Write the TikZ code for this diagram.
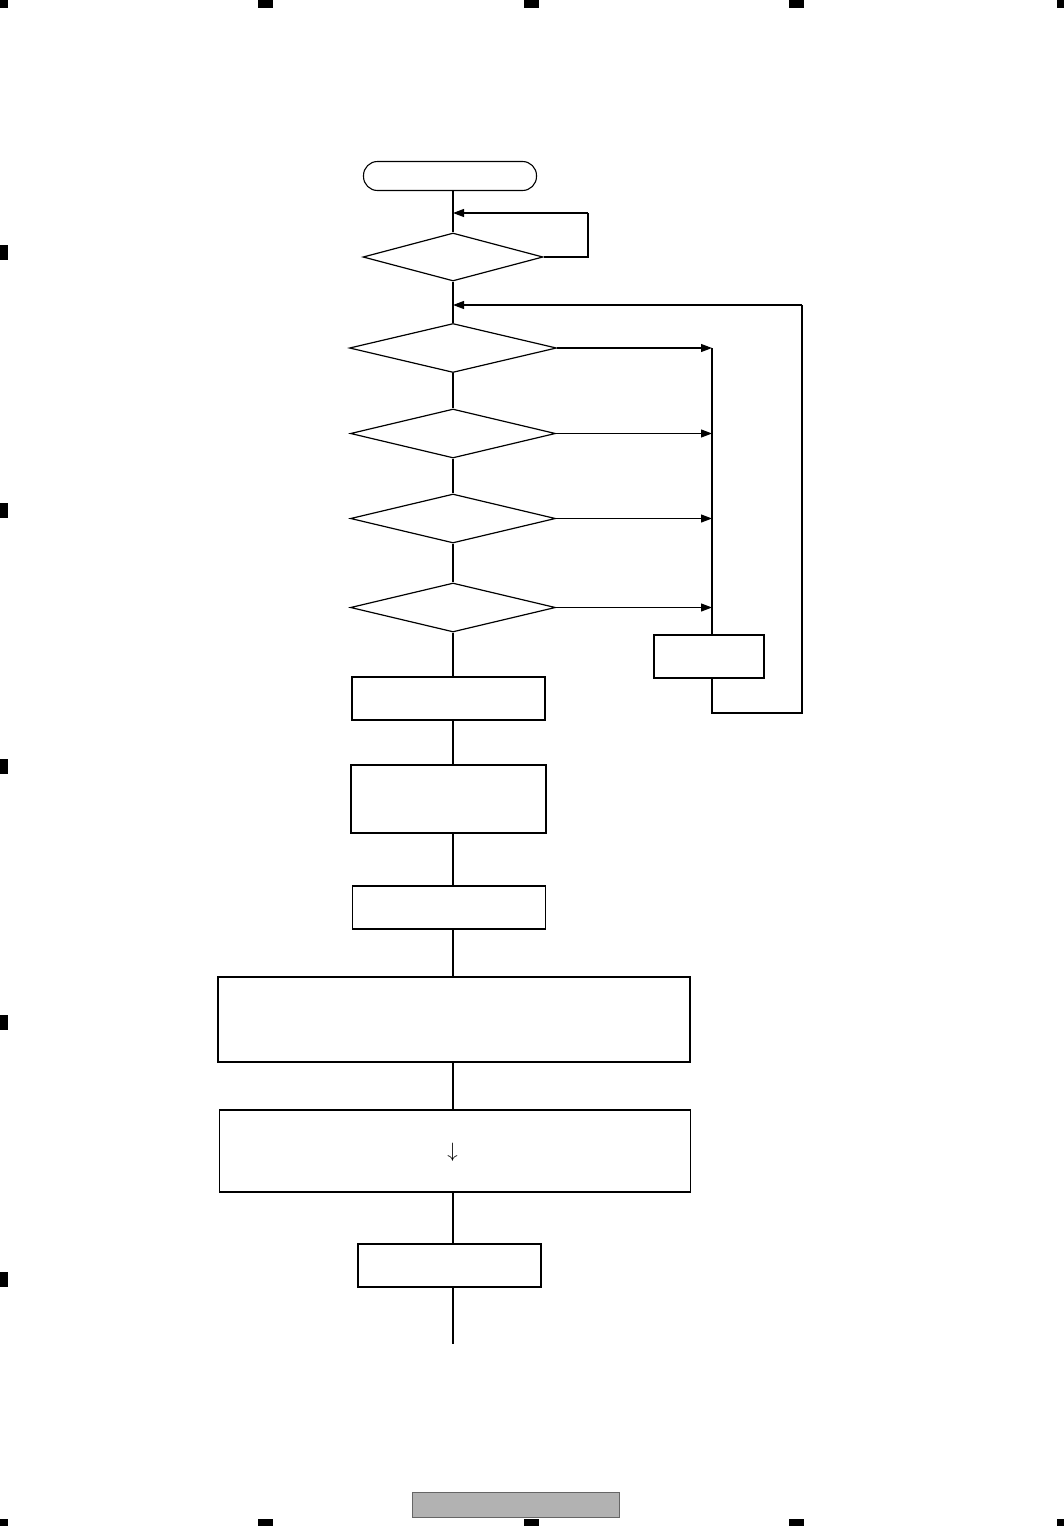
\documentclass[tikz,border=0pt]{standalone}
\usetikzlibrary{shapes.geometric,arrows.meta}
\begin{document}
\begin{tikzpicture}[x=1pt,y=-1pt,
  conn/.style={line width=1.1pt},
  arr/.style={line width=1.1pt,-{Triangle[length=11pt,width=8pt]}},
  dec/.style={diamond,draw,line width=1.2pt,inner sep=0pt,anchor=center},
  procbox/.style={rectangle,draw,line width=1.3pt,inner sep=0pt,anchor=center},
  termbox/.style={rectangle,draw,line width=1.1pt,inner sep=0pt,rounded corners=14pt},
  marker/.style={fill=black,draw=none}]
\useasboundingbox (0,0) rectangle (1064,1526);
\fill[white] (0,0) rectangle (1064,1526);
% registration marks
\foreach \mx in {0,265,531,796,1064} {
  \fill[marker] (\mx-7.5,0) rectangle (\mx+7.5,7.5);
  \fill[marker] (\mx-7.5,1518.5) rectangle (\mx+7.5,1526);
}
\foreach \my in {252,510,766,1022,1279} {
  \fill[marker] (0,\my-7.5) rectangle (8,\my+7.5);
}
% nodes
\node[termbox,minimum width=173pt,minimum height=29pt] (term) at (450,176) {};
\node[dec,minimum width=180pt,minimum height=48pt] (d1) at (453,257) {};
\node[dec,minimum width=207pt,minimum height=49pt] (d2) at (453,348) {};
\node[dec,minimum width=205pt,minimum height=49pt] (d3) at (453,433.5) {};
\node[dec,minimum width=205pt,minimum height=49pt] (d4) at (453,518.5) {};
\node[dec,minimum width=205pt,minimum height=49pt] (d5) at (453,607.5) {};
\node[procbox,minimum width=110pt,minimum height=43pt] (side) at (709,656.5) {};
\node[procbox,minimum width=193pt,minimum height=43pt] (bA) at (448.5,698.5) {};
\node[procbox,minimum width=195pt,minimum height=68pt] (bB) at (448.5,799) {};
\node[procbox,minimum width=193pt,minimum height=43pt] (bC) at (449,907.5) {};
\node[procbox,minimum width=472pt,minimum height=85pt] (bD) at (454,1019.5) {};
\node[procbox,minimum width=471pt,minimum height=82pt,font=\fontsize{20}{20}\selectfont] (bE) at (455,1151) {};
\node (arrowtxt) at (452.5,1152) {\fontsize{20}{20}\selectfont$\downarrow$};
\node[procbox,minimum width=183pt,minimum height=43pt] (bF) at (449.5,1265.5) {};
\node[rectangle,draw=black!60,fill=black!30,line width=0.8pt,minimum width=207pt,minimum height=25pt,inner sep=0pt] (page) at (515.5,1504.5) {};
% coordinates
\coordinate (ax) at (453,0);
\coordinate (c1) at (588,213);
\coordinate (bus) at (712,348);
\coordinate (lb) at (712,713);
\coordinate (rt) at (802,305);
\coordinate (endp) at (453,1344);
% connectors
\draw[conn] (ax |- term.south) -- (d1.north);
\draw[conn] (d1.east) -| (c1);
\draw[arr] (c1) -- (c1 -| ax);
\draw[conn] (d1.south) -- (d2.north);
\draw[conn] (d2.south) -- (d3.north);
\draw[conn] (d3.south) -- (d4.north);
\draw[conn] (d4.south) -- (d5.north);
\draw[arr] (d2.east) -- (d2.east -| bus);
\draw[arr] (d3.east) -- (d3.east -| bus);
\draw[arr] (d4.east) -- (d4.east -| bus);
\draw[arr] (d5.east) -- (d5.east -| bus);
\draw[conn] (bus) -- (bus |- side.north);
\draw[conn] (bus |- side.south) -- (lb) -| (rt);
\draw[arr] (rt) -- (rt -| ax);
\draw[conn] (ax |- d5.south) -- (ax |- bA.north);
\draw[conn] (ax |- bA.south) -- (ax |- bB.north);
\draw[conn] (ax |- bB.south) -- (ax |- bC.north);
\draw[conn] (ax |- bC.south) -- (ax |- bD.north);
\draw[conn] (ax |- bD.south) -- (ax |- bE.north);
\draw[conn] (ax |- bE.south) -- (ax |- bF.north);
\draw[conn] (ax |- bF.south) -- (endp);
\end{tikzpicture}
\end{document}
